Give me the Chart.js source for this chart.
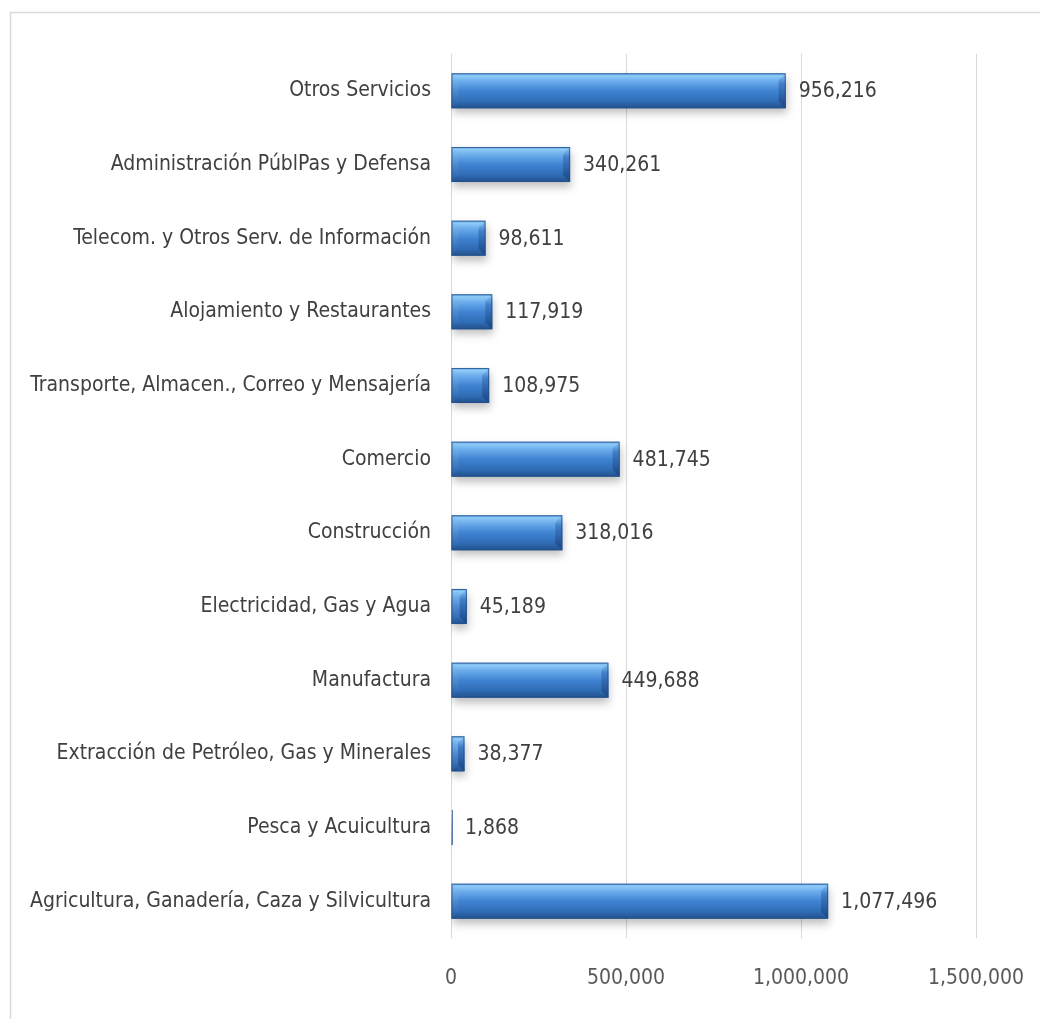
<!DOCTYPE html>
<html>
<head>
<meta charset="utf-8">
<script src="https://cdn.jsdelivr.net/npm/chart.js@4.4.1/dist/chart.umd.min.js"></script>
<style>
  html, body { margin: 0; padding: 0; background: #ffffff; }
  #wrap { width: 1040px; height: 1019px; position: relative; }
</style>
</head>
<body>
<div id="wrap"><canvas id="c" width="1040" height="1019"></canvas></div>
<script>
// Sectors, listed from top to bottom
const sectors = [
  'Otros Servicios',
  'Administración PúblPas y Defensa',
  'Telecom. y Otros Serv. de Información',
  'Alojamiento y Restaurantes',
  'Transporte, Almacen., Correo y Mensajería',
  'Comercio',
  'Construcción',
  'Electricidad, Gas y Agua',
  'Manufactura',
  'Extracción de Petróleo, Gas y Minerales',
  'Pesca y Acuicultura',
  'Agricultura, Ganadería, Caza y Silvicultura'
];
const values = [956216, 340261, 98611, 117919, 108975, 481745, 318016, 45189, 449688, 38377, 1868, 1077496];
const axisMax = 1500000;
const axisStep = 500000;

const FONT = '"Liberation Sans Narrow", "DejaVu Sans Condensed", Roboto, sans-serif';
const fmt = v => v.toLocaleString('en-US');

// outer frame
const framePlugin = {
  id: 'frame',
  beforeDraw(chart) {
    const ctx = chart.ctx;
    ctx.save();
    ctx.fillStyle = '#ffffff';
    ctx.fillRect(0, 0, chart.width, chart.height);
    ctx.strokeStyle = '#d9d9d9';
    ctx.lineWidth = 1.5;
    ctx.strokeRect(10.5, 12.5, chart.width + 10, chart.height + 10);
    ctx.restore();
  }
};

// vertical gradient per bar plus a soft drop shadow
const shadowPlugin = {
  id: 'barShadow',
  beforeDatasetDraw(chart) {
    const ctx = chart.ctx;
    chart.getDatasetMeta(0).data.forEach(el => {
      const top = el.y - el.height / 2, bot = el.y + el.height / 2;
      const g = ctx.createLinearGradient(0, top, 0, bot);
      g.addColorStop(0, '#5e9edf');
      g.addColorStop(0.07, '#8fcbf7');
      g.addColorStop(0.22, '#6cadec');
      g.addColorStop(0.5, '#3f83d2');
      g.addColorStop(0.8, '#2f6cb5');
      g.addColorStop(1, '#22508b');
      el.options = Object.assign({}, el.options, { backgroundColor: g });
    });
    ctx.save();
    ctx.shadowColor = 'rgba(0,0,0,0.25)';
    ctx.shadowBlur = 8;
    ctx.shadowOffsetX = 1;
    ctx.shadowOffsetY = 5;
  },
  afterDatasetDraw(chart) {
    chart.ctx.restore();
  }
};

// bevelled ends, outlines and value labels
const bevelPlugin = {
  id: 'bevel',
  afterDatasetsDraw(chart) {
    const ctx = chart.ctx;
    const meta = chart.getDatasetMeta(0);
    meta.data.forEach((el, i) => {
      const top = el.y - el.height / 2;
      const bot = el.y + el.height / 2;
      const x0 = el.base, x1 = el.x;
      const w = x1 - x0;
      const b = Math.min(7, w / 2);
      ctx.save();
      if (w > 3) {
        // right end face
        ctx.beginPath();
        ctx.moveTo(x1, top); ctx.lineTo(x1, bot); ctx.lineTo(x1 - b, bot - b); ctx.lineTo(x1 - b, top + b); ctx.closePath();
        const g = ctx.createLinearGradient(0, top, 0, bot);
        g.addColorStop(0, 'rgba(150,205,250,0.95)');
        g.addColorStop(0.3, 'rgba(60,120,195,0.85)');
        g.addColorStop(1, 'rgba(25,65,125,0.9)');
        ctx.fillStyle = g;
        ctx.fill();
        // left end face
        ctx.beginPath();
        ctx.moveTo(x0, top); ctx.lineTo(x0, bot); ctx.lineTo(x0 + b, bot - b); ctx.lineTo(x0 + b, top + b); ctx.closePath();
        const g2 = ctx.createLinearGradient(0, top, 0, bot);
        g2.addColorStop(0, 'rgba(140,200,248,0.6)');
        g2.addColorStop(1, 'rgba(40,90,160,0.5)');
        ctx.fillStyle = g2;
        ctx.fill();
        // thin outline
        ctx.strokeStyle = 'rgba(35,80,140,0.8)';
        ctx.lineWidth = 1;
        ctx.strokeRect(x0 + 0.5, top + 0.5, w - 1, el.height - 1);
      } else {
        // very short bar: a single edge line
        ctx.strokeStyle = 'rgba(35,80,140,0.75)';
        ctx.lineWidth = 1;
        ctx.beginPath();
        ctx.moveTo(Math.round(x1) + 0.5, top);
        ctx.lineTo(Math.round(x1) + 0.5, bot);
        ctx.stroke();
      }
      // value label
      ctx.fillStyle = '#404040';
      ctx.font = '21px ' + FONT;
      ctx.textAlign = 'left';
      ctx.textBaseline = 'middle';
      ctx.fillText(fmt(values[i]), x1 + 13, el.y + 1);
      ctx.restore();
    });
  }
};

new Chart(document.getElementById('c'), {
  type: 'bar',
  data: {
    labels: sectors,
    datasets: [{
      data: values,
      backgroundColor: () => '#3f83d2',
      borderWidth: 0,
      barPercentage: 0.68,
      categoryPercentage: 0.7,
      minBarLength: 1
    }]
  },
  options: {
    indexAxis: 'y',
    responsive: false,
    animation: false,
    devicePixelRatio: 1,
    layout: { padding: { top: 54, right: 64, left: 0, bottom: 0 } },
    plugins: {
      legend: { display: false },
      tooltip: { enabled: false }
    },
    scales: {
      x: {
        min: 0,
        max: axisMax,
        grid: { color: '#d9d9d9', lineWidth: 1, drawTicks: false },
        border: { display: false },
        ticks: {
          stepSize: axisStep,
          color: '#595959',
          font: { family: FONT, size: 21 },
          padding: 28,
          callback: v => fmt(v)
        },
        afterFit(s) { s.height = 81; s.paddingRight = 0; s.paddingLeft = 0; }
      },
      y: {
        grid: { display: false, drawTicks: false },
        border: { display: false },
        ticks: {
          color: '#404040',
          font: { family: FONT, size: 21 },
          padding: 20,
          autoSkip: false
        },
        afterFit(s) { s.width = 451; }
      }
    }
  },
  plugins: [framePlugin, shadowPlugin, bevelPlugin]
});
</script>
</body>
</html>
